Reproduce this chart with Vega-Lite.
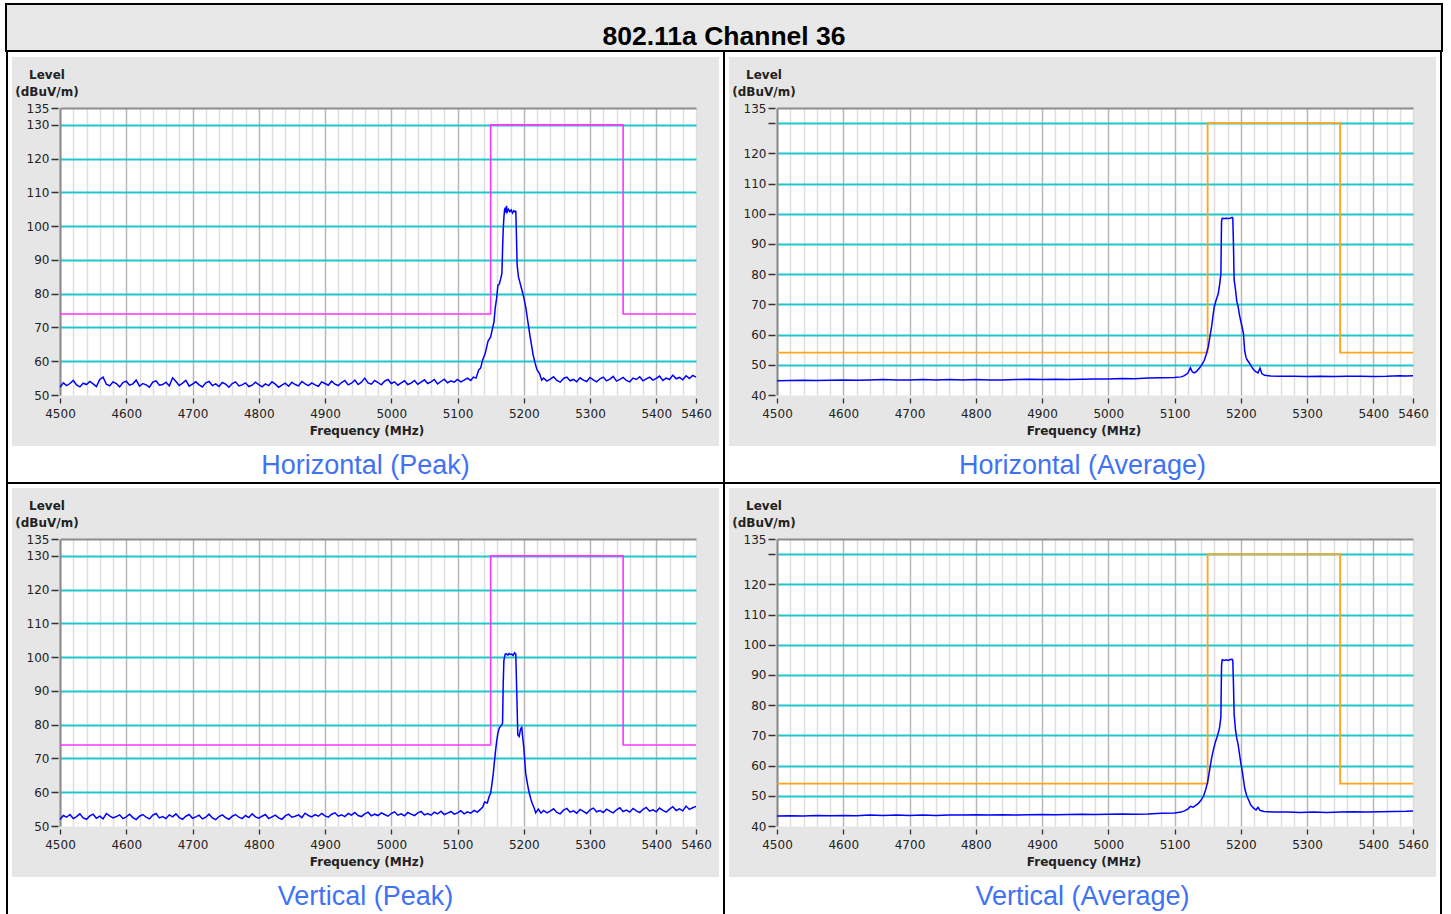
{
  "$schema": "https://vega.github.io/schema/vega-lite/v6.json",
  "background": "white",
  "padding": {"left": 5, "top": 3, "right": 8, "bottom": 0},
  "spacing": 0,
  "config": {"view": {"stroke": null}, "concat": {"spacing": 0}},
  "datasets": {
    "peakLimit": [{"i":0,"f":4500,"v":74},{"i":1,"f":5150,"v":74},{"i":2,"f":5150,"v":130},{"i":3,"f":5350,"v":130},{"i":4,"f":5350,"v":74},{"i":5,"f":5460,"v":74}],
    "avgLimit": [{"i":0,"f":4500,"v":54},{"i":1,"f":5150,"v":54},{"i":2,"f":5150,"v":130},{"i":3,"f":5350,"v":130},{"i":4,"f":5350,"v":54},{"i":5,"f":5460,"v":54}],
    "hPeak": [{"f":4500,"v":52.3},{"f":4505,"v":53.6},{"f":4510,"v":52.8},{"f":4515,"v":53.4},{"f":4520,"v":54.3},{"f":4525,"v":53.0},{"f":4530,"v":52.4},{"f":4535,"v":53.5},{"f":4540,"v":53.1},{"f":4545,"v":54.0},{"f":4550,"v":53.3},{"f":4555,"v":52.5},{"f":4560,"v":54.6},{"f":4565,"v":55.3},{"f":4570,"v":53.2},{"f":4575,"v":52.7},{"f":4580,"v":53.9},{"f":4585,"v":53.4},{"f":4590,"v":52.4},{"f":4595,"v":53.7},{"f":4600,"v":54.1},{"f":4605,"v":52.9},{"f":4610,"v":53.3},{"f":4615,"v":54.4},{"f":4620,"v":52.6},{"f":4625,"v":53.4},{"f":4630,"v":53.0},{"f":4635,"v":52.3},{"f":4640,"v":53.8},{"f":4645,"v":54.2},{"f":4650,"v":52.9},{"f":4655,"v":53.1},{"f":4660,"v":53.8},{"f":4665,"v":52.7},{"f":4670,"v":55.1},{"f":4675,"v":54.0},{"f":4680,"v":52.8},{"f":4685,"v":53.5},{"f":4690,"v":54.3},{"f":4695,"v":52.6},{"f":4700,"v":53.2},{"f":4705,"v":53.9},{"f":4710,"v":53.0},{"f":4715,"v":52.4},{"f":4720,"v":53.6},{"f":4725,"v":54.0},{"f":4730,"v":52.8},{"f":4735,"v":53.3},{"f":4740,"v":52.5},{"f":4745,"v":53.7},{"f":4750,"v":53.2},{"f":4755,"v":52.3},{"f":4760,"v":53.4},{"f":4765,"v":53.9},{"f":4770,"v":52.7},{"f":4775,"v":53.0},{"f":4780,"v":53.6},{"f":4785,"v":52.5},{"f":4790,"v":52.9},{"f":4795,"v":53.8},{"f":4800,"v":53.1},{"f":4805,"v":52.4},{"f":4810,"v":53.3},{"f":4815,"v":52.8},{"f":4820,"v":53.9},{"f":4825,"v":53.2},{"f":4830,"v":52.3},{"f":4835,"v":52.9},{"f":4840,"v":53.5},{"f":4845,"v":52.6},{"f":4850,"v":53.8},{"f":4855,"v":53.1},{"f":4860,"v":52.7},{"f":4865,"v":54.0},{"f":4870,"v":53.3},{"f":4875,"v":52.8},{"f":4880,"v":53.6},{"f":4885,"v":53.0},{"f":4890,"v":52.6},{"f":4895,"v":53.9},{"f":4900,"v":53.4},{"f":4905,"v":52.9},{"f":4910,"v":54.1},{"f":4915,"v":53.2},{"f":4920,"v":52.8},{"f":4925,"v":53.7},{"f":4930,"v":54.3},{"f":4935,"v":53.0},{"f":4940,"v":53.5},{"f":4945,"v":54.4},{"f":4950,"v":53.1},{"f":4955,"v":53.8},{"f":4960,"v":55.0},{"f":4965,"v":53.6},{"f":4970,"v":53.2},{"f":4975,"v":54.3},{"f":4980,"v":53.7},{"f":4985,"v":53.0},{"f":4990,"v":54.1},{"f":4995,"v":54.6},{"f":5000,"v":53.4},{"f":5005,"v":53.9},{"f":5010,"v":52.9},{"f":5015,"v":53.6},{"f":5020,"v":54.2},{"f":5025,"v":53.1},{"f":5030,"v":53.5},{"f":5035,"v":54.3},{"f":5040,"v":53.2},{"f":5045,"v":53.8},{"f":5050,"v":54.5},{"f":5055,"v":53.4},{"f":5060,"v":53.9},{"f":5065,"v":54.6},{"f":5070,"v":53.3},{"f":5075,"v":54.0},{"f":5080,"v":54.7},{"f":5085,"v":53.6},{"f":5090,"v":54.2},{"f":5095,"v":53.8},{"f":5100,"v":54.6},{"f":5105,"v":53.9},{"f":5110,"v":54.4},{"f":5115,"v":55.0},{"f":5120,"v":54.3},{"f":5124,"v":55.3},{"f":5128,"v":55.0},{"f":5132,"v":57.4},{"f":5135,"v":58.0},{"f":5138,"v":60.4},{"f":5142,"v":62.4},{"f":5146,"v":65.9},{"f":5150,"v":67.2},{"f":5153,"v":69.9},{"f":5155,"v":71.6},{"f":5157,"v":75.9},{"f":5159,"v":78.6},{"f":5161,"v":82.5},{"f":5163,"v":82.8},{"f":5165,"v":84.3},{"f":5167,"v":86.0},{"f":5168,"v":93.0},{"f":5169,"v":99.0},{"f":5170,"v":102.5},{"f":5171,"v":104.8},{"f":5172,"v":105.5},{"f":5173,"v":104.0},{"f":5174,"v":106.0},{"f":5175,"v":104.2},{"f":5177,"v":105.0},{"f":5179,"v":104.3},{"f":5181,"v":104.8},{"f":5183,"v":103.9},{"f":5185,"v":104.6},{"f":5187,"v":104.2},{"f":5188,"v":104.6},{"f":5189,"v":97.0},{"f":5190,"v":88.5},{"f":5192,"v":85.0},{"f":5194,"v":83.5},{"f":5196,"v":82.0},{"f":5198,"v":80.5},{"f":5200,"v":79.0},{"f":5203,"v":76.0},{"f":5206,"v":72.0},{"f":5209,"v":68.0},{"f":5212,"v":64.5},{"f":5214,"v":62.0},{"f":5217,"v":59.5},{"f":5220,"v":57.5},{"f":5224,"v":56.3},{"f":5227,"v":54.4},{"f":5230,"v":55.0},{"f":5235,"v":54.1},{"f":5240,"v":54.7},{"f":5245,"v":55.4},{"f":5250,"v":54.3},{"f":5255,"v":53.8},{"f":5260,"v":54.9},{"f":5265,"v":55.3},{"f":5270,"v":54.2},{"f":5275,"v":54.6},{"f":5280,"v":53.9},{"f":5285,"v":55.1},{"f":5290,"v":54.4},{"f":5295,"v":54.0},{"f":5300,"v":55.2},{"f":5305,"v":54.5},{"f":5310,"v":53.9},{"f":5315,"v":54.8},{"f":5320,"v":55.3},{"f":5325,"v":54.2},{"f":5330,"v":54.7},{"f":5335,"v":55.5},{"f":5340,"v":54.1},{"f":5345,"v":54.6},{"f":5350,"v":55.2},{"f":5355,"v":54.3},{"f":5360,"v":53.9},{"f":5365,"v":55.0},{"f":5370,"v":54.6},{"f":5375,"v":55.4},{"f":5380,"v":54.2},{"f":5385,"v":54.8},{"f":5390,"v":55.3},{"f":5395,"v":54.4},{"f":5400,"v":54.9},{"f":5405,"v":55.6},{"f":5410,"v":54.3},{"f":5415,"v":55.0},{"f":5420,"v":54.6},{"f":5425,"v":55.9},{"f":5430,"v":54.8},{"f":5435,"v":55.2},{"f":5440,"v":54.5},{"f":5445,"v":55.7},{"f":5450,"v":54.9},{"f":5455,"v":55.8},{"f":5460,"v":55.3}],
    "vPeak": [{"f":4500,"v":51.9},{"f":4505,"v":53.1},{"f":4510,"v":52.6},{"f":4515,"v":53.4},{"f":4520,"v":52.2},{"f":4525,"v":52.8},{"f":4530,"v":53.6},{"f":4535,"v":52.4},{"f":4540,"v":52.0},{"f":4545,"v":53.0},{"f":4550,"v":53.5},{"f":4555,"v":52.3},{"f":4560,"v":52.9},{"f":4565,"v":52.1},{"f":4570,"v":53.7},{"f":4575,"v":53.0},{"f":4580,"v":52.4},{"f":4585,"v":52.8},{"f":4590,"v":53.3},{"f":4595,"v":52.2},{"f":4600,"v":52.7},{"f":4605,"v":53.5},{"f":4610,"v":52.5},{"f":4615,"v":51.9},{"f":4620,"v":52.9},{"f":4625,"v":53.4},{"f":4630,"v":52.6},{"f":4635,"v":52.1},{"f":4640,"v":53.2},{"f":4645,"v":53.7},{"f":4650,"v":52.4},{"f":4655,"v":52.8},{"f":4660,"v":52.2},{"f":4665,"v":53.3},{"f":4670,"v":52.7},{"f":4675,"v":53.6},{"f":4680,"v":52.5},{"f":4685,"v":52.0},{"f":4690,"v":52.9},{"f":4695,"v":53.4},{"f":4700,"v":52.3},{"f":4705,"v":52.7},{"f":4710,"v":53.2},{"f":4715,"v":52.1},{"f":4720,"v":52.6},{"f":4725,"v":53.5},{"f":4730,"v":52.4},{"f":4735,"v":51.9},{"f":4740,"v":52.8},{"f":4745,"v":53.3},{"f":4750,"v":52.5},{"f":4755,"v":52.0},{"f":4760,"v":52.9},{"f":4765,"v":53.4},{"f":4770,"v":52.6},{"f":4775,"v":52.2},{"f":4780,"v":53.1},{"f":4785,"v":52.5},{"f":4790,"v":53.6},{"f":4795,"v":52.7},{"f":4800,"v":52.3},{"f":4805,"v":52.9},{"f":4810,"v":53.4},{"f":4815,"v":52.2},{"f":4820,"v":52.7},{"f":4825,"v":53.2},{"f":4830,"v":52.4},{"f":4835,"v":52.0},{"f":4840,"v":53.0},{"f":4845,"v":53.5},{"f":4850,"v":52.6},{"f":4855,"v":52.9},{"f":4860,"v":53.3},{"f":4865,"v":52.5},{"f":4870,"v":53.8},{"f":4875,"v":53.1},{"f":4880,"v":52.7},{"f":4885,"v":53.4},{"f":4890,"v":52.9},{"f":4895,"v":53.7},{"f":4900,"v":53.0},{"f":4905,"v":52.6},{"f":4910,"v":53.5},{"f":4915,"v":53.9},{"f":4920,"v":52.9},{"f":4925,"v":53.3},{"f":4930,"v":52.8},{"f":4935,"v":53.7},{"f":4940,"v":53.2},{"f":4945,"v":54.0},{"f":4950,"v":53.1},{"f":4955,"v":52.8},{"f":4960,"v":53.6},{"f":4965,"v":54.1},{"f":4970,"v":53.0},{"f":4975,"v":53.5},{"f":4980,"v":53.1},{"f":4985,"v":53.9},{"f":4990,"v":53.4},{"f":4995,"v":52.9},{"f":5000,"v":53.7},{"f":5005,"v":54.2},{"f":5010,"v":53.2},{"f":5015,"v":53.6},{"f":5020,"v":53.0},{"f":5025,"v":54.0},{"f":5030,"v":53.5},{"f":5035,"v":53.1},{"f":5040,"v":53.9},{"f":5045,"v":54.3},{"f":5050,"v":53.3},{"f":5055,"v":53.7},{"f":5060,"v":53.2},{"f":5065,"v":54.1},{"f":5070,"v":53.6},{"f":5075,"v":54.4},{"f":5080,"v":53.4},{"f":5085,"v":53.8},{"f":5090,"v":54.3},{"f":5095,"v":53.5},{"f":5100,"v":53.9},{"f":5105,"v":54.5},{"f":5110,"v":53.6},{"f":5115,"v":54.2},{"f":5120,"v":53.8},{"f":5125,"v":54.6},{"f":5130,"v":54.1},{"f":5135,"v":55.0},{"f":5138,"v":55.6},{"f":5141,"v":57.1},{"f":5145,"v":56.8},{"f":5148,"v":58.9},{"f":5150,"v":59.7},{"f":5152,"v":62.5},{"f":5154,"v":65.5},{"f":5155,"v":67.6},{"f":5157,"v":71.5},{"f":5159,"v":75.0},{"f":5161,"v":77.5},{"f":5163,"v":79.0},{"f":5165,"v":79.5},{"f":5167,"v":80.0},{"f":5168,"v":80.5},{"f":5169,"v":92.0},{"f":5170,"v":99.0},{"f":5172,"v":100.9},{"f":5174,"v":101.0},{"f":5176,"v":100.6},{"f":5178,"v":101.1},{"f":5180,"v":100.8},{"f":5182,"v":100.9},{"f":5184,"v":100.5},{"f":5186,"v":101.3},{"f":5188,"v":100.9},{"f":5189,"v":93.0},{"f":5190,"v":85.3},{"f":5191,"v":77.0},{"f":5193,"v":76.5},{"f":5195,"v":78.5},{"f":5197,"v":79.4},{"f":5198,"v":77.0},{"f":5200,"v":73.4},{"f":5203,"v":65.5},{"f":5206,"v":62.0},{"f":5208,"v":60.0},{"f":5211,"v":57.8},{"f":5213,"v":56.6},{"f":5216,"v":55.2},{"f":5218,"v":53.9},{"f":5222,"v":55.0},{"f":5226,"v":53.8},{"f":5230,"v":54.6},{"f":5235,"v":53.9},{"f":5240,"v":54.4},{"f":5245,"v":55.1},{"f":5250,"v":54.0},{"f":5255,"v":53.6},{"f":5260,"v":54.7},{"f":5265,"v":55.2},{"f":5270,"v":54.1},{"f":5275,"v":54.5},{"f":5280,"v":53.8},{"f":5285,"v":54.9},{"f":5290,"v":54.3},{"f":5295,"v":53.7},{"f":5300,"v":54.8},{"f":5305,"v":55.3},{"f":5310,"v":54.2},{"f":5315,"v":54.6},{"f":5320,"v":54.0},{"f":5325,"v":55.0},{"f":5330,"v":54.4},{"f":5335,"v":53.9},{"f":5340,"v":54.8},{"f":5345,"v":55.4},{"f":5350,"v":54.3},{"f":5355,"v":54.7},{"f":5360,"v":54.1},{"f":5365,"v":55.2},{"f":5370,"v":54.5},{"f":5375,"v":54.0},{"f":5380,"v":54.9},{"f":5385,"v":55.5},{"f":5390,"v":54.4},{"f":5395,"v":54.8},{"f":5400,"v":54.2},{"f":5405,"v":55.3},{"f":5410,"v":54.6},{"f":5415,"v":54.1},{"f":5420,"v":55.0},{"f":5425,"v":55.7},{"f":5430,"v":54.6},{"f":5435,"v":55.1},{"f":5440,"v":54.5},{"f":5445,"v":55.9},{"f":5450,"v":54.9},{"f":5455,"v":55.4},{"f":5460,"v":55.8}],
    "hAvg": [{"f":4500,"v":44.7},{"f":4520,"v":44.8},{"f":4540,"v":44.9},{"f":4560,"v":44.8},{"f":4580,"v":44.9},{"f":4600,"v":45.0},{"f":4620,"v":44.9},{"f":4640,"v":45.0},{"f":4660,"v":45.1},{"f":4680,"v":45.0},{"f":4700,"v":45.0},{"f":4720,"v":45.1},{"f":4740,"v":45.0},{"f":4760,"v":45.1},{"f":4780,"v":45.0},{"f":4800,"v":45.1},{"f":4820,"v":45.0},{"f":4840,"v":45.0},{"f":4860,"v":45.1},{"f":4880,"v":45.2},{"f":4900,"v":45.1},{"f":4920,"v":45.2},{"f":4940,"v":45.1},{"f":4960,"v":45.2},{"f":4980,"v":45.3},{"f":5000,"v":45.3},{"f":5020,"v":45.5},{"f":5040,"v":45.4},{"f":5060,"v":45.6},{"f":5080,"v":45.7},{"f":5100,"v":45.8},{"f":5110,"v":46.0},{"f":5115,"v":46.4},{"f":5120,"v":47.2},{"f":5124,"v":49.0},{"f":5127,"v":47.6},{"f":5130,"v":47.3},{"f":5134,"v":48.0},{"f":5138,"v":49.0},{"f":5142,"v":50.3},{"f":5145,"v":51.5},{"f":5148,"v":53.5},{"f":5151,"v":56.0},{"f":5154,"v":60.0},{"f":5156,"v":62.6},{"f":5158,"v":66.0},{"f":5160,"v":69.2},{"f":5163,"v":71.5},{"f":5166,"v":73.5},{"f":5168,"v":76.4},{"f":5170,"v":80.0},{"f":5171,"v":97.5},{"f":5172,"v":98.5},{"f":5175,"v":98.4},{"f":5178,"v":98.5},{"f":5181,"v":98.4},{"f":5184,"v":98.5},{"f":5187,"v":98.8},{"f":5188,"v":98.6},{"f":5189,"v":90.0},{"f":5190,"v":78.1},{"f":5192,"v":75.0},{"f":5194,"v":71.0},{"f":5196,"v":69.3},{"f":5198,"v":66.5},{"f":5200,"v":64.5},{"f":5202,"v":62.5},{"f":5204,"v":60.5},{"f":5206,"v":54.5},{"f":5208,"v":52.5},{"f":5210,"v":51.5},{"f":5213,"v":50.6},{"f":5216,"v":49.5},{"f":5219,"v":48.5},{"f":5222,"v":47.8},{"f":5226,"v":47.3},{"f":5229,"v":48.9},{"f":5232,"v":47.0},{"f":5236,"v":46.5},{"f":5245,"v":46.3},{"f":5260,"v":46.2},{"f":5280,"v":46.2},{"f":5300,"v":46.1},{"f":5320,"v":46.2},{"f":5340,"v":46.1},{"f":5360,"v":46.2},{"f":5380,"v":46.2},{"f":5400,"v":46.1},{"f":5420,"v":46.2},{"f":5440,"v":46.4},{"f":5450,"v":46.3},{"f":5460,"v":46.4}],
    "vAvg": [{"f":4500,"v":43.3},{"f":4520,"v":43.4},{"f":4540,"v":43.3},{"f":4560,"v":43.5},{"f":4580,"v":43.4},{"f":4600,"v":43.5},{"f":4620,"v":43.4},{"f":4640,"v":43.6},{"f":4660,"v":43.5},{"f":4680,"v":43.6},{"f":4700,"v":43.5},{"f":4720,"v":43.6},{"f":4740,"v":43.5},{"f":4760,"v":43.6},{"f":4780,"v":43.6},{"f":4800,"v":43.7},{"f":4820,"v":43.6},{"f":4840,"v":43.7},{"f":4860,"v":43.6},{"f":4880,"v":43.7},{"f":4900,"v":43.8},{"f":4920,"v":43.7},{"f":4940,"v":43.8},{"f":4960,"v":43.9},{"f":4980,"v":43.8},{"f":5000,"v":43.9},{"f":5020,"v":44.0},{"f":5040,"v":43.9},{"f":5060,"v":44.0},{"f":5080,"v":44.2},{"f":5100,"v":44.3},{"f":5110,"v":44.6},{"f":5115,"v":45.0},{"f":5120,"v":45.6},{"f":5124,"v":46.5},{"f":5128,"v":46.2},{"f":5132,"v":46.8},{"f":5136,"v":47.5},{"f":5140,"v":48.5},{"f":5144,"v":50.0},{"f":5147,"v":52.0},{"f":5150,"v":54.5},{"f":5153,"v":58.5},{"f":5156,"v":62.5},{"f":5159,"v":65.5},{"f":5162,"v":68.0},{"f":5165,"v":70.0},{"f":5168,"v":72.5},{"f":5170,"v":76.0},{"f":5171,"v":93.0},{"f":5172,"v":95.0},{"f":5175,"v":94.8},{"f":5178,"v":95.0},{"f":5181,"v":94.8},{"f":5184,"v":95.1},{"f":5187,"v":95.2},{"f":5188,"v":94.8},{"f":5189,"v":87.0},{"f":5190,"v":77.0},{"f":5192,"v":72.0},{"f":5194,"v":69.0},{"f":5196,"v":67.0},{"f":5198,"v":64.0},{"f":5200,"v":61.0},{"f":5202,"v":58.5},{"f":5204,"v":55.5},{"f":5206,"v":52.5},{"f":5209,"v":50.0},{"f":5212,"v":48.5},{"f":5215,"v":47.0},{"f":5219,"v":46.0},{"f":5223,"v":45.3},{"f":5226,"v":46.2},{"f":5229,"v":45.2},{"f":5235,"v":44.8},{"f":5250,"v":44.6},{"f":5270,"v":44.6},{"f":5290,"v":44.5},{"f":5310,"v":44.6},{"f":5330,"v":44.5},{"f":5350,"v":44.6},{"f":5370,"v":44.7},{"f":5390,"v":44.6},{"f":5410,"v":44.7},{"f":5430,"v":44.8},{"f":5450,"v":44.9},{"f":5460,"v":45.0}]
  },
  "vconcat": [
    {
      "width": 1436, "height": 47,
      "view": {"fill": "#e8e8e8", "stroke": "black", "strokeWidth": 2},
      "data": {"values": [{"t": "802.11a Channel 36"}]},
      "mark": {"type": "text", "font": "Liberation Sans", "fontSize": 26.5, "fontWeight": "bold", "color": "black", "baseline": "middle", "dy": 9},
      "encoding": {"text": {"field": "t"}}
    },
    {
      "spacing": 4,
      "hconcat": [
        {"width": 2, "height": 430, "view": {"fill": "black", "stroke": null}, "data": {"values": []}, "mark": "point"},
        {
          "spacing": 0,
          "vconcat": [
            {"width": 1, "height": 5, "data": {"values": []}, "mark": "point"},
            {
              "width": 707, "height": 389,
              "view": {"fill": "#e6e6e6", "stroke": null},
              "title": {"text": "Horizontal (Peak)", "orient": "bottom", "anchor": "middle", "offset": 7, "baseline": "top", "font": "Liberation Sans", "fontSize": 27, "fontWeight": "normal", "color": "#4072f4"},
              "resolve": {"axis": {"x": "independent"}},
              "encoding": {
                "y": {"field": "v", "type": "quantitative",
                  "scale": {"domain": [50, 135], "range": [338, 51], "nice": false, "zero": false},
                  "axis": {"orient": "left", "values": [50,60,70,80,90,100,110,120,130,135], "offset": -48,
                    "domain": true, "domainColor": "#8c8c8c", "domainWidth": 2,
                    "grid": true, "gridColor": {"condition": {"test": "datum.value === 135", "value": "#8c8c8c"}, "value": "#1cc8cc"},
                    "gridOpacity": {"condition": {"test": "datum.value === 50", "value": 0}, "value": 1}, "gridWidth": 1.8,
                    "tickSize": 9, "tickDash": [0, 2, 7, 20], "tickColor": "#333333", "tickWidth": 1.3,
                    "labelFont": "DejaVu Sans", "labelFontSize": 12, "labelColor": "#222222", "labelPadding": 2, "labelOverlap": false, "labelFlush": false,
                    "title": ["Level", "(dBuV/m)"], "titleFont": "DejaVu Sans", "titleFontSize": 12, "titleFontWeight": "bold", "titleColor": "#222222",
                    "titleAngle": 0, "titleX": -13.5, "titleY": 12, "titleAlign": "center", "titleBaseline": "top", "titleLineHeight": 17}}
              },
              "layer": [
                {"data": {"name": "peakLimit"}, "mark": {"type": "line", "color": "#ff33ff", "strokeWidth": 1.6},
                  "encoding": {"order": {"field": "i", "type": "quantitative"},
                    "x": {"field": "f", "type": "quantitative", "scale": {"domain": [4500, 5460], "range": [48, 684], "nice": false, "zero": false},
                      "axis": {"orient": "bottom", "values": [4980], "offset": -51, "grid": true, "gridColor": "#ffffff", "gridWidth": 636, "gridOpacity": 1, "domain": false, "ticks": false, "labels": false, "title": null}}}},
                {"data": {"name": "hPeak"}, "mark": {"type": "line", "color": "#0000ff", "strokeWidth": 1.5},
                  "encoding": {
                    "x": {"field": "f", "type": "quantitative", "scale": {"domain": [4500, 5460], "range": [48, 684], "nice": false, "zero": false},
                      "axis": {"orient": "bottom", "values": [4500,4520,4540,4560,4580,4600,4620,4640,4660,4680,4700,4720,4740,4760,4780,4800,4820,4840,4860,4880,4900,4920,4940,4960,4980,5000,5020,5040,5060,5080,5100,5120,5140,5160,5180,5200,5220,5240,5260,5280,5300,5320,5340,5360,5380,5400,5420,5440,5460],
                        "offset": -51, "domain": false, "grid": true,
                        "gridColor": {"condition": {"test": "datum.value % 100 === 0", "value": "#b8b8b8"}, "value": "#dedede"}, "gridWidth": 1.5,
                        "tickSize": 8, "tickDash": [0, 3, 5, 20], "tickColor": "#333333", "tickWidth": 1.3,
                        "tickOpacity": {"condition": {"test": "datum.value % 100 === 0 || datum.value === 5460", "value": 1}, "value": 0},
                        "labelExpr": "(datum.value % 100 === 0 || datum.value === 5460) ? datum.label : ''", "format": "d",
                        "labelFont": "DejaVu Sans", "labelFontSize": 12, "labelColor": "#222222", "labelPadding": 5, "labelOverlap": false, "labelFlush": false,
                        "title": "Frequency (MHz)", "titleFont": "DejaVu Sans", "titleFontSize": 12, "titleFontWeight": "bold", "titleColor": "#222222",
                        "titleX": 354.5, "titleY": 30, "titleBaseline": "top", "titleAlign": "center"}}}}
              ]
            }
          ]
        },
        {"width": 2, "height": 430, "view": {"fill": "black", "stroke": null}, "data": {"values": []}, "mark": "point"},
        {
          "spacing": 0,
          "vconcat": [
            {"width": 1, "height": 5, "data": {"values": []}, "mark": "point"},
            {
              "width": 707, "height": 389,
              "view": {"fill": "#e6e6e6", "stroke": null},
              "title": {"text": "Horizontal (Average)", "orient": "bottom", "anchor": "middle", "offset": 7, "baseline": "top", "font": "Liberation Sans", "fontSize": 27, "fontWeight": "normal", "color": "#4072f4"},
              "resolve": {"axis": {"x": "independent"}},
              "encoding": {
                "y": {"field": "v", "type": "quantitative",
                  "scale": {"domain": [40, 135], "range": [338, 51], "nice": false, "zero": false},
                  "axis": {"orient": "left", "values": [40,50,60,70,80,90,100,110,120,130,135], "offset": -48,
                    "domain": true, "domainColor": "#8c8c8c", "domainWidth": 2,
                    "grid": true, "gridColor": {"condition": {"test": "datum.value === 135", "value": "#8c8c8c"}, "value": "#1cc8cc"},
                    "gridOpacity": {"condition": {"test": "datum.value === 40", "value": 0}, "value": 1}, "gridWidth": 1.8,
                    "tickSize": 9, "tickDash": [0, 2, 7, 20], "tickColor": "#333333", "tickWidth": 1.3,
                    "labelExpr": "datum.value === 130 ? '' : datum.label",
                    "labelFont": "DejaVu Sans", "labelFontSize": 12, "labelColor": "#222222", "labelPadding": 2, "labelOverlap": false, "labelFlush": false,
                    "title": ["Level", "(dBuV/m)"], "titleFont": "DejaVu Sans", "titleFontSize": 12, "titleFontWeight": "bold", "titleColor": "#222222",
                    "titleAngle": 0, "titleX": -13.5, "titleY": 12, "titleAlign": "center", "titleBaseline": "top", "titleLineHeight": 17}}
              },
              "layer": [
                {"data": {"name": "avgLimit"}, "mark": {"type": "line", "color": "#ffa41c", "strokeWidth": 1.8},
                  "encoding": {"order": {"field": "i", "type": "quantitative"},
                    "x": {"field": "f", "type": "quantitative", "scale": {"domain": [4500, 5460], "range": [48, 684], "nice": false, "zero": false},
                      "axis": {"orient": "bottom", "values": [4980], "offset": -51, "grid": true, "gridColor": "#ffffff", "gridWidth": 636, "gridOpacity": 1, "domain": false, "ticks": false, "labels": false, "title": null}}}},
                {"data": {"name": "hAvg"}, "mark": {"type": "line", "color": "#0000ff", "strokeWidth": 1.5},
                  "encoding": {
                    "x": {"field": "f", "type": "quantitative", "scale": {"domain": [4500, 5460], "range": [48, 684], "nice": false, "zero": false},
                      "axis": {"orient": "bottom", "values": [4500,4520,4540,4560,4580,4600,4620,4640,4660,4680,4700,4720,4740,4760,4780,4800,4820,4840,4860,4880,4900,4920,4940,4960,4980,5000,5020,5040,5060,5080,5100,5120,5140,5160,5180,5200,5220,5240,5260,5280,5300,5320,5340,5360,5380,5400,5420,5440,5460],
                        "offset": -51, "domain": false, "grid": true,
                        "gridColor": {"condition": {"test": "datum.value % 100 === 0", "value": "#b8b8b8"}, "value": "#dedede"}, "gridWidth": 1.5,
                        "tickSize": 8, "tickDash": [0, 3, 5, 20], "tickColor": "#333333", "tickWidth": 1.3,
                        "tickOpacity": {"condition": {"test": "datum.value % 100 === 0 || datum.value === 5460", "value": 1}, "value": 0},
                        "labelExpr": "(datum.value % 100 === 0 || datum.value === 5460) ? datum.label : ''", "format": "d",
                        "labelFont": "DejaVu Sans", "labelFontSize": 12, "labelColor": "#222222", "labelPadding": 5, "labelOverlap": false, "labelFlush": false,
                        "title": "Frequency (MHz)", "titleFont": "DejaVu Sans", "titleFontSize": 12, "titleFontWeight": "bold", "titleColor": "#222222",
                        "titleX": 354.5, "titleY": 30, "titleBaseline": "top", "titleAlign": "center"}}}}
              ]
            }
          ]
        },
        {"width": 2, "height": 430, "view": {"fill": "black", "stroke": null}, "data": {"values": []}, "mark": "point"}
      ]
    },
    {"width": 1436, "height": 2, "view": {"fill": "black", "stroke": null}, "data": {"values": []}, "mark": "point"},
    {
      "spacing": 4,
      "hconcat": [
        {"width": 2, "height": 440, "view": {"fill": "black", "stroke": null}, "data": {"values": []}, "mark": "point"},
        {
          "spacing": 0,
          "vconcat": [
            {"width": 1, "height": 4, "data": {"values": []}, "mark": "point"},
            {
              "width": 707, "height": 389,
              "view": {"fill": "#e6e6e6", "stroke": null},
              "title": {"text": "Vertical (Peak)", "orient": "bottom", "anchor": "middle", "offset": 7, "baseline": "top", "font": "Liberation Sans", "fontSize": 27, "fontWeight": "normal", "color": "#4072f4"},
              "resolve": {"axis": {"x": "independent"}},
              "encoding": {
                "y": {"field": "v", "type": "quantitative",
                  "scale": {"domain": [50, 135], "range": [338, 51], "nice": false, "zero": false},
                  "axis": {"orient": "left", "values": [50,60,70,80,90,100,110,120,130,135], "offset": -48,
                    "domain": true, "domainColor": "#8c8c8c", "domainWidth": 2,
                    "grid": true, "gridColor": {"condition": {"test": "datum.value === 135", "value": "#8c8c8c"}, "value": "#1cc8cc"},
                    "gridOpacity": {"condition": {"test": "datum.value === 50", "value": 0}, "value": 1}, "gridWidth": 1.8,
                    "tickSize": 9, "tickDash": [0, 2, 7, 20], "tickColor": "#333333", "tickWidth": 1.3,
                    "labelFont": "DejaVu Sans", "labelFontSize": 12, "labelColor": "#222222", "labelPadding": 2, "labelOverlap": false, "labelFlush": false,
                    "title": ["Level", "(dBuV/m)"], "titleFont": "DejaVu Sans", "titleFontSize": 12, "titleFontWeight": "bold", "titleColor": "#222222",
                    "titleAngle": 0, "titleX": -13.5, "titleY": 12, "titleAlign": "center", "titleBaseline": "top", "titleLineHeight": 17}}
              },
              "layer": [
                {"data": {"name": "peakLimit"}, "mark": {"type": "line", "color": "#ff33ff", "strokeWidth": 1.6},
                  "encoding": {"order": {"field": "i", "type": "quantitative"},
                    "x": {"field": "f", "type": "quantitative", "scale": {"domain": [4500, 5460], "range": [48, 684], "nice": false, "zero": false},
                      "axis": {"orient": "bottom", "values": [4980], "offset": -51, "grid": true, "gridColor": "#ffffff", "gridWidth": 636, "gridOpacity": 1, "domain": false, "ticks": false, "labels": false, "title": null}}}},
                {"data": {"name": "vPeak"}, "mark": {"type": "line", "color": "#0000ff", "strokeWidth": 1.5},
                  "encoding": {
                    "x": {"field": "f", "type": "quantitative", "scale": {"domain": [4500, 5460], "range": [48, 684], "nice": false, "zero": false},
                      "axis": {"orient": "bottom", "values": [4500,4520,4540,4560,4580,4600,4620,4640,4660,4680,4700,4720,4740,4760,4780,4800,4820,4840,4860,4880,4900,4920,4940,4960,4980,5000,5020,5040,5060,5080,5100,5120,5140,5160,5180,5200,5220,5240,5260,5280,5300,5320,5340,5360,5380,5400,5420,5440,5460],
                        "offset": -51, "domain": false, "grid": true,
                        "gridColor": {"condition": {"test": "datum.value % 100 === 0", "value": "#b8b8b8"}, "value": "#dedede"}, "gridWidth": 1.5,
                        "tickSize": 8, "tickDash": [0, 3, 5, 20], "tickColor": "#333333", "tickWidth": 1.3,
                        "tickOpacity": {"condition": {"test": "datum.value % 100 === 0 || datum.value === 5460", "value": 1}, "value": 0},
                        "labelExpr": "(datum.value % 100 === 0 || datum.value === 5460) ? datum.label : ''", "format": "d",
                        "labelFont": "DejaVu Sans", "labelFontSize": 12, "labelColor": "#222222", "labelPadding": 5, "labelOverlap": false, "labelFlush": false,
                        "title": "Frequency (MHz)", "titleFont": "DejaVu Sans", "titleFontSize": 12, "titleFontWeight": "bold", "titleColor": "#222222",
                        "titleX": 354.5, "titleY": 30, "titleBaseline": "top", "titleAlign": "center"}}}}
              ]
            }
          ]
        },
        {"width": 2, "height": 440, "view": {"fill": "black", "stroke": null}, "data": {"values": []}, "mark": "point"},
        {
          "spacing": 0,
          "vconcat": [
            {"width": 1, "height": 4, "data": {"values": []}, "mark": "point"},
            {
              "width": 707, "height": 389,
              "view": {"fill": "#e6e6e6", "stroke": null},
              "title": {"text": "Vertical (Average)", "orient": "bottom", "anchor": "middle", "offset": 7, "baseline": "top", "font": "Liberation Sans", "fontSize": 27, "fontWeight": "normal", "color": "#4072f4"},
              "resolve": {"axis": {"x": "independent"}},
              "encoding": {
                "y": {"field": "v", "type": "quantitative",
                  "scale": {"domain": [40, 135], "range": [338, 51], "nice": false, "zero": false},
                  "axis": {"orient": "left", "values": [40,50,60,70,80,90,100,110,120,130,135], "offset": -48,
                    "domain": true, "domainColor": "#8c8c8c", "domainWidth": 2,
                    "grid": true, "gridColor": {"condition": {"test": "datum.value === 135", "value": "#8c8c8c"}, "value": "#1cc8cc"},
                    "gridOpacity": {"condition": {"test": "datum.value === 40", "value": 0}, "value": 1}, "gridWidth": 1.8,
                    "tickSize": 9, "tickDash": [0, 2, 7, 20], "tickColor": "#333333", "tickWidth": 1.3,
                    "labelExpr": "datum.value === 130 ? '' : datum.label",
                    "labelFont": "DejaVu Sans", "labelFontSize": 12, "labelColor": "#222222", "labelPadding": 2, "labelOverlap": false, "labelFlush": false,
                    "title": ["Level", "(dBuV/m)"], "titleFont": "DejaVu Sans", "titleFontSize": 12, "titleFontWeight": "bold", "titleColor": "#222222",
                    "titleAngle": 0, "titleX": -13.5, "titleY": 12, "titleAlign": "center", "titleBaseline": "top", "titleLineHeight": 17}}
              },
              "layer": [
                {"data": {"name": "avgLimit"}, "mark": {"type": "line", "color": "#ffa41c", "strokeWidth": 1.8},
                  "encoding": {"order": {"field": "i", "type": "quantitative"},
                    "x": {"field": "f", "type": "quantitative", "scale": {"domain": [4500, 5460], "range": [48, 684], "nice": false, "zero": false},
                      "axis": {"orient": "bottom", "values": [4980], "offset": -51, "grid": true, "gridColor": "#ffffff", "gridWidth": 636, "gridOpacity": 1, "domain": false, "ticks": false, "labels": false, "title": null}}}},
                {"data": {"name": "vAvg"}, "mark": {"type": "line", "color": "#0000ff", "strokeWidth": 1.5},
                  "encoding": {
                    "x": {"field": "f", "type": "quantitative", "scale": {"domain": [4500, 5460], "range": [48, 684], "nice": false, "zero": false},
                      "axis": {"orient": "bottom", "values": [4500,4520,4540,4560,4580,4600,4620,4640,4660,4680,4700,4720,4740,4760,4780,4800,4820,4840,4860,4880,4900,4920,4940,4960,4980,5000,5020,5040,5060,5080,5100,5120,5140,5160,5180,5200,5220,5240,5260,5280,5300,5320,5340,5360,5380,5400,5420,5440,5460],
                        "offset": -51, "domain": false, "grid": true,
                        "gridColor": {"condition": {"test": "datum.value % 100 === 0", "value": "#b8b8b8"}, "value": "#dedede"}, "gridWidth": 1.5,
                        "tickSize": 8, "tickDash": [0, 3, 5, 20], "tickColor": "#333333", "tickWidth": 1.3,
                        "tickOpacity": {"condition": {"test": "datum.value % 100 === 0 || datum.value === 5460", "value": 1}, "value": 0},
                        "labelExpr": "(datum.value % 100 === 0 || datum.value === 5460) ? datum.label : ''", "format": "d",
                        "labelFont": "DejaVu Sans", "labelFontSize": 12, "labelColor": "#222222", "labelPadding": 5, "labelOverlap": false, "labelFlush": false,
                        "title": "Frequency (MHz)", "titleFont": "DejaVu Sans", "titleFontSize": 12, "titleFontWeight": "bold", "titleColor": "#222222",
                        "titleX": 354.5, "titleY": 30, "titleBaseline": "top", "titleAlign": "center"}}}}
              ]
            }
          ]
        },
        {"width": 2, "height": 440, "view": {"fill": "black", "stroke": null}, "data": {"values": []}, "mark": "point"}
      ]
    }
  ]
}
